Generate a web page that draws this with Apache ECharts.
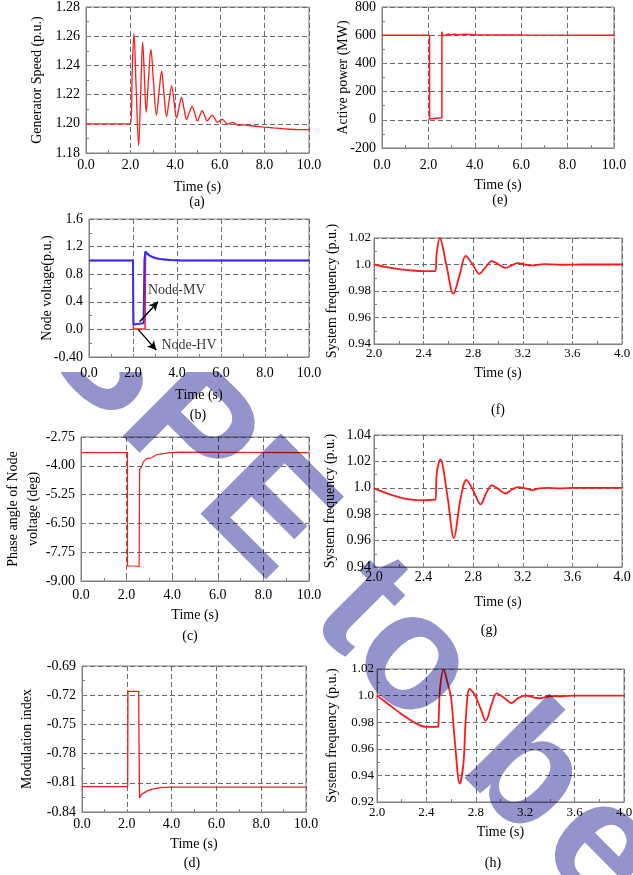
<!DOCTYPE html>
<html><head><meta charset="utf-8">
<script src="https://cdn.jsdelivr.net/npm/echarts@6/dist/echarts.min.js"></script>
<style>
html,body{margin:0;padding:0;background:#fff;}
#c,#wm{position:absolute;left:0;top:0;width:633px;height:875px;}
#wm{pointer-events:none;mix-blend-mode:multiply;clip-path:polygon(0 372px,320px 372px,320px 0,633px 0,633px 875px,0 875px);}
</style>
</head><body><div id="c"></div><div id="wm"></div>
<script>
// ---- (a) Generator speed ----
const speedT = [0, 2.0, 2.07, 2.15, 2.25, 2.36, 2.45, 2.54, 2.62, 2.70, 2.80, 2.91, 3.03, 3.16, 3.27, 3.39, 3.50, 3.61, 3.72, 3.84, 3.95, 4.06, 4.17, 4.28, 4.40, 4.51, 4.63, 4.76, 4.88, 4.99, 5.10, 5.21, 5.32, 5.43, 5.55, 5.67, 5.78, 5.88, 6.0, 6.12, 6.22, 6.33, 6.46, 6.6, 6.72, 6.85, 7.0, 7.5, 8.0, 8.5, 9.0, 9.5, 10];
const speedV = [1.200, 1.200, 1.235, 1.262, 1.224, 1.185, 1.220, 1.256, 1.232, 1.208, 1.230, 1.251, 1.228, 1.206, 1.221, 1.236, 1.220, 1.205, 1.215, 1.226, 1.215, 1.204, 1.211, 1.218, 1.210, 1.203, 1.2075, 1.212, 1.207, 1.202, 1.2055, 1.209, 1.2055, 1.202, 1.204, 1.206, 1.2035, 1.201, 1.202, 1.203, 1.2015, 1.1998, 1.2004, 1.201, 1.1997, 1.199, 1.1993, 1.1985, 1.1977, 1.197, 1.1964, 1.196, 1.196];
// ---- (e) Active power ----
const powerT = [0, 2.05, 2.05, 2.1, 2.58, 2.58, 2.62, 2.68, 2.75, 2.85, 2.95, 3.1, 3.3, 3.6, 4.0, 5.0, 6.0, 10];
const powerV = [600, 600, 5, 12, 14, 625, 598, 612, 600, 608, 602, 607, 603, 606, 604, 602, 601, 600];
// ---- (b) Node voltage ----
const hvT = [0, 2.0, 2.02, 2.55, 2.57, 2.62, 2.75, 3.0, 3.3, 3.7, 4.2, 10];
const hvV = [1.0, 1.0, 0.005, 0.01, 1.11, 1.12, 1.07, 1.035, 1.015, 1.005, 1.0, 1.0];
const mvT = [0, 2.0, 2.02, 2.48, 2.52, 2.56, 2.62, 2.75, 3.0, 3.3, 3.7, 4.2, 10];
const mvV = [1.0, 1.0, 0.07, 0.09, 1.0, 1.13, 1.115, 1.07, 1.035, 1.015, 1.005, 1.0, 1.0];
const annoText = ['Node-MV', 'Node-HV'];
const annoX = [2.68, 3.29];
const annoY = [0.57, -0.23];
const arrowFrom = [[2.30, 0.11], [2.23, 0.0]];
const arrowTo = [[3.14, 0.40], [3.06, -0.30]];
// ---- (f) System frequency ----
const f1T = [2.0, 2.1, 2.2, 2.3, 2.4, 2.495, 2.505, 2.53, 2.585, 2.64, 2.69, 2.74, 2.795, 2.85, 2.90, 2.95, 3.005, 3.06, 3.11, 3.16, 3.215, 3.27, 3.37, 3.5, 3.7, 4.0];
const f1V = [1.000, 0.998, 0.9965, 0.9955, 0.995, 0.995, 1.008, 1.020, 0.999, 0.978, 0.992, 1.0065, 1.0, 0.993, 0.998, 1.0025, 1.0, 0.9975, 0.9993, 1.001, 1.0, 0.9993, 1.0003, 0.9998, 1.0, 1.0];
// ---- (c) Phase angle ----
const angleT = [0, 2.04, 2.04, 2.3, 2.55, 2.57, 2.66, 2.73, 2.88, 3.09, 3.31, 3.6, 3.9, 4.34, 6.0, 10];
const angleV = [-3.43, -3.43, -8.35, -8.35, -8.37, -4.15, -4.05, -3.83, -3.69, -3.65, -3.52, -3.47, -3.43, -3.41, -3.42, -3.43];
// ---- (g) System frequency ----
const f2T = [2.0, 2.1, 2.2, 2.3, 2.4, 2.49, 2.497, 2.507, 2.535, 2.59, 2.645, 2.695, 2.745, 2.80, 2.86, 2.905, 2.95, 3.005, 3.06, 3.11, 3.16, 3.22, 3.28, 3.33, 3.4, 3.5, 3.6, 4.0];
const f2V = [0.9995, 0.996, 0.993, 0.991, 0.9905, 0.991, 0.991, 1.012, 1.0215, 0.995, 0.962, 0.99, 1.006, 0.998, 0.9875, 0.996, 1.0018, 0.999, 0.9957, 0.9985, 1.0005, 0.9995, 0.9983, 0.9995, 1.0, 0.9995, 1.0, 1.0];
// ---- (d) Modulation index ----
const modT = [0, 2.04, 2.05, 2.1, 2.53, 2.55, 2.57, 2.65, 2.75, 2.9, 3.05, 3.3, 3.5, 4.0, 10];
const modV = [-0.814, -0.814, -0.716, -0.7155, -0.716, -0.78, -0.8255, -0.822, -0.8206, -0.8185, -0.817, -0.8158, -0.815, -0.8144, -0.8144];
// ---- (h) System frequency ----
const f3T = [2.0, 2.1, 2.2, 2.3, 2.4, 2.49, 2.497, 2.51, 2.54, 2.57, 2.6, 2.63, 2.67, 2.70, 2.72, 2.75, 2.79, 2.84, 2.88, 2.93, 2.97, 3.02, 3.09, 3.14, 3.2, 3.31, 3.4, 3.5, 3.6, 4.0];
const f3V = [1.0, 0.993, 0.986, 0.980, 0.9765, 0.9765, 0.977, 1.005, 1.0195, 1.01, 0.998, 0.966, 0.9338, 0.949, 0.984, 1.005, 1.001, 0.99, 0.981, 0.994, 1.0017, 0.999, 0.9944, 0.998, 1.0, 0.998, 0.9995, 0.9995, 1.0, 1.0];

const xTicks10 = [0, 10, 2];
const xTicks4 = [2, 4, 0.4];
const angleTicks = [-9, -7.75, -6.5, -5.25, -4, -2.75];

const FONT = 'Liberation Serif';
const zip = (t, v) => t.map((x, i) => [x, v[i]]);

// layout: [left, top, width, height]
const G = [
  [86, 7, 223, 146],    // a
  [382, 7, 232, 141],   // e
  [89, 219, 220, 138],  // b
  [374, 238, 248, 106], // f
  [81, 437, 228, 144],  // c
  [374, 435, 248, 132], // g
  [82, 666, 224, 146],  // d
  [377, 669, 247, 133]  // h
];
const grid = G.map(g => ({left: g[0], top: g[1], width: g[2], height: g[3], show: true, borderColor: '#808080', borderWidth: 1, backgroundColor: 'transparent', containLabel: false, outerBoundsMode: 'none'}));

const splitLine = {show: true, lineStyle: {color: '#6a6a6a', type: [5, 3], width: 1}};
function mkX(gi, ext, margin, nameGap, fs) {
  return {type: 'value', gridIndex: gi, min: ext[0], max: ext[1], interval: ext[2],
    name: 'Time (s)', nameLocation: 'middle', nameGap: nameGap, nameMoveOverlap: false,
    nameTextStyle: {fontFamily: FONT, fontSize: 14, color: '#000'},
    axisLine: {show: true, onZero: false, lineStyle: {color: '#808080'}},
    axisTick: {show: true, inside: true, length: 3, lineStyle: {color: '#808080'}},
    minorTick: {show: true, splitNumber: 2, length: 3, lineStyle: {color: '#808080'}},
    splitLine: splitLine,
    axisLabel: {fontFamily: FONT, fontSize: fs, color: '#000', margin: margin, formatter: v => v.toFixed(1), showMinLabel: true, showMaxLabel: true, hideOverlap: false}};
}
function mkY(gi, min, max, interval, name, nameGap, fmt, fs, margin, extra) {
  const ax = {type: 'value', gridIndex: gi, min: min, max: max, interval: interval,
    name: name, nameLocation: 'middle', nameGap: nameGap, nameMoveOverlap: false,
    nameTextStyle: {fontFamily: FONT, fontSize: 14, color: '#000', lineHeight: 20},
    axisLine: {show: true, onZero: false, lineStyle: {color: '#808080'}},
    axisTick: {show: true, inside: true, length: 3, lineStyle: {color: '#808080'}},
    minorTick: {show: true, splitNumber: 2, length: 3, lineStyle: {color: '#808080'}},
    splitLine: splitLine,
    axisLabel: {fontFamily: FONT, fontSize: fs, color: '#000', margin: margin, formatter: fmt, showMinLabel: true, showMaxLabel: true, hideOverlap: false}};
  if (extra) extra(ax);
  return ax;
}
const f2 = v => v.toFixed(2);
const fFreq = v => Math.abs(v - 1) < 1e-9 ? '1.0' : v.toFixed(2);
const fNode = v => v < -1e-9 ? v.toFixed(2) : v.toFixed(1);
const fInt = v => String(Math.round(v));

const xAxis = [
  mkX(0, xTicks10, 5, 27, 14),
  mkX(1, xTicks10, 10, 30, 14),
  mkX(2, xTicks10, 9, 31, 14),
  mkX(3, xTicks4, 3, 22, 13),
  mkX(4, xTicks10, 7, 27, 14),
  mkX(5, xTicks4, 3, 28, 14),
  mkX(6, xTicks10, 5, 25, 14),
  mkX(7, xTicks4, 4, 23, 13)
];
const yAxis = [
  mkY(0, 1.18, 1.28, 0.02, 'Generator Speed (p.u.)', 39, f2, 14, 6),
  mkY(1, -200, 800, 200, 'Active power (MW)', 29, fInt, 14, 6),
  mkY(2, -0.4, 1.6, 0.4, 'Node voltage(p.u.)', 32, fNode, 14, 6),
  mkY(3, 0.94, 1.02, 0.02, 'System frequency (p.u.)', 32, fFreq, 13, 3),
  mkY(4, -9, -2.75, 1.25, 'Phase angle of Node\nvoltage (deg)', 38, f2, 14, 6, ax => {
    ax.axisLabel.customValues = angleTicks;
    ax.axisTick.customValues = angleTicks;
    ax.minorTick.show = false;
  }),
  mkY(5, 0.94, 1.04, 0.02, 'System frequency (p.u.)', 34, fFreq, 14, 3),
  mkY(6, -0.84, -0.69, 0.03, 'Modulation index', 45, f2, 14, 6),
  mkY(7, 0.92, 1.02, 0.02, 'System frequency (p.u.)', 35, fFreq, 13, 3)
];

function line(i, data, color, width, smooth, z) {
  return {type: 'line', xAxisIndex: i, yAxisIndex: i, data: data, showSymbol: false, symbol: 'none',
    smooth: smooth, lineStyle: {color: color, width: width}, itemStyle: {color: color}, z: z || 2, animation: false, silent: true};
}
const RED = '#ff1a1a';
const series = [
  line(0, zip(speedT, speedV), RED, 1.3, 0.35),
  line(1, zip(powerT, powerV), RED, 1.5, false),
  line(2, zip(hvT, hvV), RED, 1.5, false, 2),
  Object.assign(line(2, zip(mvT, mvV), '#2f2fff', 2, false, 3), {
    markLine: {silent: true, symbol: ['none', 'arrow'], symbolSize: [7, 9], animation: false,
      lineStyle: {color: '#000', width: 1.4, type: 'solid'}, label: {show: false},
      data: arrowFrom.map((p, i) => [{coord: p}, {coord: arrowTo[i]}])}
  }),
  {type: 'scatter', xAxisIndex: 2, yAxisIndex: 2, symbolSize: 0, silent: true, animation: false, z: 5,
    data: annoX.map((x, i) => ({value: [x, annoY[i]], name: annoText[i]})),
    label: {show: true, position: 'right', distance: 0, formatter: p => p.name, fontFamily: FONT, fontSize: 14, color: '#000'}},
  line(3, zip(f1T, f1V), RED, 1.8, 0.35),
  line(4, zip(angleT, angleV), RED, 1.2, false),
  line(5, zip(f2T, f2V), RED, 1.8, 0.35),
  line(6, zip(modT, modV), RED, 1.3, false),
  line(7, zip(f3T, f3V), RED, 1.8, 0.35)
];

const panelLabels = ['(a)', '(e)', '(b)', '(f)', '(c)', '(g)', '(d)', '(h)'];
const panelPos = [[197, 202], [500, 200], [198, 415], [498, 410], [190, 636], [489, 630], [192, 863], [493, 863]];
const graphic = panelLabels.map((t, i) => ({type: 'text', x: panelPos[i][0], y: panelPos[i][1], z: 10,
  style: {text: t, fontFamily: FONT, fontSize: 14, fill: '#000', textAlign: 'center', textVerticalAlign: 'middle'}}));

const chart = echarts.init(document.getElementById('c'), null, {renderer: 'canvas'});
chart.setOption({animation: false, backgroundColor: '#fff', grid: grid, xAxis: xAxis, yAxis: yAxis, series: series, graphic: graphic});

// watermark overlay (multiplied over the figure), letters set along a 45-degree baseline
const wmLetters = ['S', 'P', 'E', 't', 'o', 'b', 'e'];
const wmAlong = [329, 439, 549, 683, 760, 918, 1025]; // distance along the baseline direction
const WM_SIZE = 165, WM_V = -176, R2 = Math.SQRT2;
const wm = echarts.init(document.getElementById('wm'), null, {renderer: 'canvas'});
wm.setOption({backgroundColor: 'transparent', animation: false,
  graphic: wmLetters.map((ch, i) => ({type: 'text', silent: true, rotation: -Math.PI / 4,
    x: (wmAlong[i] + WM_V) / R2, y: (wmAlong[i] - WM_V) / R2,
    style: {text: ch, fontFamily: 'Liberation Sans', fontWeight: 'bold', fontSize: WM_SIZE, fill: '#9494cc', textAlign: 'center', textVerticalAlign: 'middle'}}))});
</script></body></html>
